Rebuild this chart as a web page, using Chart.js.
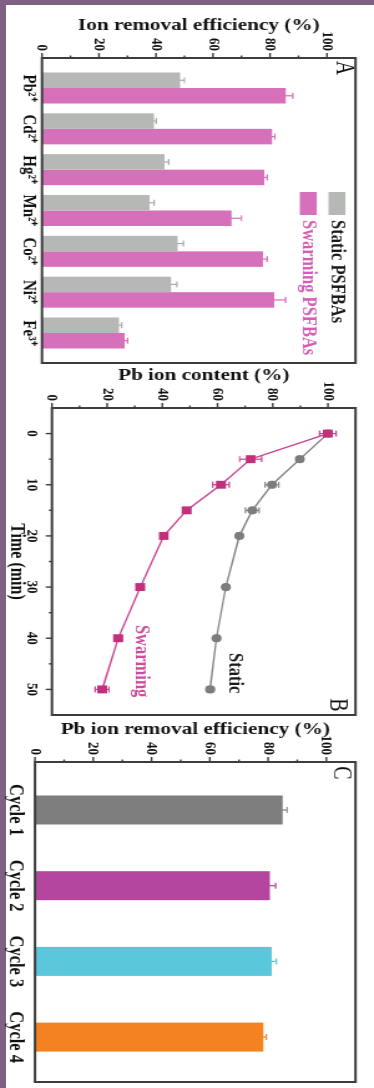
<!DOCTYPE html>
<html>
<head>
<meta charset="utf-8">
<title>Ion removal</title>
<script src="https://cdn.jsdelivr.net/npm/chart.js@4.4.1/dist/chart.umd.min.js"></script>
<style>
  html, body { margin: 0; padding: 0; }
  body { width: 374px; height: 1088px; background: #7f6184; position: relative; overflow: hidden; }
  #paper { position: absolute; left: 6px; top: 5px; width: 368px; height: 1083px; background: #fff; }
  /* the figure is drawn upright, then turned a quarter turn clockwise */
  #figure { position: absolute; left: 0; top: 0; width: 1088px; height: 300px;
    transform-origin: 0 0; transform: translate(374px, 0) rotate(90deg) scaleY(1.2467); }
  #figure canvas { position: absolute; top: 0; }
</style>
</head>
<body>
<div id="paper"></div>
<div id="figure">
  <canvas id="chartA" width="375" height="300" style="left:0"></canvas>
  <canvas id="chartB" width="375" height="300" style="left:350px"></canvas>
  <canvas id="chartC" width="384" height="300" style="left:704px"></canvas>
</div>
<script>
// Panel A - removal of different ions
const ions = ["Pb²⁺", "Cd²⁺", "Hg²⁺", "Mn²⁺", "Co²⁺", "Ni²⁺", "Fe³⁺"];
const staticRemoval = [48.5, 39.3, 43, 37.8, 47.6, 45.3, 27];
const staticRemovalErr = [1.5, 0.8, 1.5, 1.5, 2, 2, 1];
const swarmingRemoval = [85.5, 80.7, 78, 66.5, 77.5, 81.5, 29];
const swarmingRemovalErr = [2.5, 1, 1, 3.5, 1.5, 4, 1];

// Panel B - Pb content over time
const timeMin = [0, 5, 10, 15, 20, 30, 40, 50];
const swarmingContent = [100, 72, 61.2, 48.8, 40.5, 32, 24, 18.2];
const swarmingContentErr = [3, 4, 3, 1, 1, 1, 1.5, 2.5];
const staticContent = [100, 89.8, 79.7, 72.6, 67.9, 63, 59.6, 57.3];
const staticContentErr = [1, 1, 2.5, 2.5, 1, 1, 1, 1];

// Panel C - reuse cycles
const cycles = ["Cycle 1", "Cycle 2", "Cycle 3", "Cycle 4"];
const cycleRemoval = [85, 80.6, 81.3, 78.4];
const cycleRemovalErr = [1.5, 2, 1.5, 1];

// tick labels
const percentTicks = [0, 20, 40, 60, 80, 100];
const timeTicks = [0, 10, 20, 30, 40, 50];

const serif = "'Liberation Serif', 'Times New Roman', serif";
Chart.defaults.font.family = serif;
Chart.defaults.color = '#1a1a1a';

const setTicks = vals => s => { s.ticks = vals.map(v => ({ value: v })); };

function percentAxis(title, width) {
  return {
    type: 'linear', min: 0, max: 110,
    afterBuildTicks: setTicks(percentTicks),
    ticks: { padding: 7, autoSkip: false, font: { size: 13, weight: 'bold' }, color: '#111' },
    grid: { display: false, drawTicks: false },
    border: { display: false },
    title: { display: true, text: title, color: '#111',
      font: { size: 17, weight: 'bold' }, padding: { top: 15, bottom: 0 } },
    afterFit: s => { s.width = width; }
  };
}

// frame box round the plot, plus outward major / minor ticks
const framePlugin = {
  id: 'frame',
  afterDraw(chart, args, opts) {
    const { ctx, chartArea: a } = chart;
    ctx.save();
    ctx.strokeStyle = '#3d3d3d';
    ctx.lineWidth = 2;
    ctx.strokeRect(a.left, a.top, a.right - a.left, a.bottom - a.top);
    ctx.lineWidth = 1.4;
    (opts.tickAxes || []).forEach(id => {
      const s = chart.scales[id];
      const vals = s.ticks.map(t => t.value);
      const marks = [];
      vals.forEach((v, i) => {
        marks.push([v, 5]);
        if (i < vals.length - 1) marks.push([(v + vals[i + 1]) / 2, 2.5]);
      });
      marks.forEach(([v, len]) => {
        const p = s.getPixelForValue(v);
        ctx.beginPath();
        if (s.isHorizontal()) { ctx.moveTo(p, a.bottom); ctx.lineTo(p, a.bottom + len); }
        else { ctx.moveTo(a.left, p); ctx.lineTo(a.left - len, p); }
        ctx.stroke();
      });
    });
    if (opts.letter) {
      const l = opts.letter;
      ctx.fillStyle = '#111';
      ctx.font = "20px " + serif;
      ctx.textAlign = 'center';
      ctx.textBaseline = 'middle';
      const x = l.fromRight ? a.right - l.dx : a.left + l.dx;
      ctx.fillText(l.text, x, a.top + l.dy);
    }
    ctx.restore();
  }
};

const errorBarPlugin = {
  id: 'errorBars',
  beforeDatasetsDraw(chart) {
    const { ctx } = chart;
    const yScale = chart.scales.y;
    chart.data.datasets.forEach((ds, di) => {
      if (!ds.errors) return;
      const meta = chart.getDatasetMeta(di);
      ctx.save();
      ctx.lineWidth = 1.2;
      meta.data.forEach((el, i) => {
        const d = ds.data[i];
        const v = typeof d === 'object' ? d.y : d;
        const e = ds.errors[i];
        const top = yScale.getPixelForValue(v + e);
        const bot = yScale.getPixelForValue(v - e);
        const cap = 3;
        ctx.strokeStyle = Array.isArray(ds.errorColor) ? ds.errorColor[i] : ds.errorColor;
        ctx.beginPath();
        ctx.moveTo(el.x, bot); ctx.lineTo(el.x, top);
        ctx.moveTo(el.x - cap, top); ctx.lineTo(el.x + cap, top);
        ctx.moveTo(el.x - cap, bot); ctx.lineTo(el.x + cap, bot);
        ctx.stroke();
      });
      ctx.restore();
    });
  }
};

const legendPlugin = {
  id: 'boxLegend',
  afterDraw(chart, args, opts) {
    if (!opts.show) return;
    const { ctx, chartArea: a } = chart;
    ctx.save();
    ctx.font = "bold 16.5px " + serif;
    ctx.textBaseline = 'middle';
    ctx.textAlign = 'left';
    chart.data.datasets.forEach((ds, i) => {
      const x = a.left + opts.x, y = a.top + opts.y + i * opts.rowGap;
      ctx.fillStyle = ds.backgroundColor;
      ctx.fillRect(x, y - 6.8, 23, 13.6);
      ctx.fillStyle = ds.legendTextColor;
      ctx.fillText(ds.label, x + 28, y);
    });
    ctx.restore();
  }
};

const notePlugin = {
  id: 'notes',
  afterDraw(chart, args, opts) {
    if (!opts.items) return;
    const { ctx } = chart;
    ctx.save();
    ctx.font = "bold 16.5px " + serif;
    ctx.textBaseline = 'middle';
    ctx.textAlign = 'left';
    opts.items.forEach(n => {
      ctx.fillStyle = n.color;
      ctx.fillText(n.text, chart.scales.x.getPixelForValue(n.x), chart.scales.y.getPixelForValue(n.y));
    });
    ctx.restore();
  }
};

const common = { responsive: false, animation: false, devicePixelRatio: 1 };

// A
new Chart(document.getElementById('chartA'), {
  type: 'bar',
  data: {
    datasets: [
      { label: 'Static PSFBAs', data: staticRemoval.map((v, i) => ({ x: i, y: v })),
        backgroundColor: '#b5b8b5', errors: staticRemovalErr, errorColor: '#a9aca9',
        legendTextColor: '#1a1a1a', categoryPercentage: 0.76, barPercentage: 1 },
      { label: 'Swarming PSFBAs', data: swarmingRemoval.map((v, i) => ({ x: i, y: v })),
        backgroundColor: '#d670ba', errors: swarmingRemovalErr, errorColor: '#d670ba',
        legendTextColor: '#d45cb4', categoryPercentage: 0.76, barPercentage: 1 }
    ]
  },
  options: {
    ...common,
    layout: { padding: { left: 0, right: 12, top: 9.6, bottom: 0 } },
    plugins: {
      legend: { display: false }, tooltip: { enabled: false },
      frame: { tickAxes: ['y'], letter: { text: 'A', dx: 10, dy: 9.7 } },
      boxLegend: { show: true, x: 134, y: 14.9, rowGap: 23 }
    },
    scales: {
      x: { type: 'linear', min: -0.735, max: 6.735, offset: false,
        afterBuildTicks: setTicks(ions.map((n, i) => i)),
        ticks: { autoSkip: false, maxRotation: 0, padding: 2, font: { size: 15, weight: 'bold' }, color: '#111',
          callback: v => ions[v] },
        grid: { display: false, drawTicks: false }, border: { display: false },
        afterFit: s => { s.height = 33.7; } },
      y: percentAxis('Ion removal efficiency (%)', 58)
    }
  },
  plugins: [errorBarPlugin, framePlugin, legendPlugin]
});

// B
new Chart(document.getElementById('chartB'), {
  type: 'line',
  data: {
    datasets: [
      { label: 'Swarming', data: timeMin.map((t, i) => ({ x: t, y: swarmingContent[i] })),
        borderColor: '#c94490', backgroundColor: '#c2307c', pointBorderColor: '#c2307c',
        pointStyle: 'rect', pointRadius: 4.6, borderWidth: 1.4, tension: 0,
        errors: swarmingContentErr, errorColor: '#c94490' },
      { label: 'Static', data: timeMin.map((t, i) => ({ x: t, y: staticContent[i] })),
        borderColor: '#858585', backgroundColor: '#7d7d7d', pointBorderColor: '#7d7d7d',
        pointStyle: 'circle', pointRadius: 3.4, borderWidth: 1.4, tension: 0,
        errors: staticContentErr, errorColor: '#8a8a8a' }
    ]
  },
  options: {
    ...common,
    layout: { padding: { left: 0, right: 10, top: 9.6, bottom: 0 } },
    plugins: {
      legend: { display: false }, tooltip: { enabled: false },
      frame: { tickAxes: ['x', 'y'], letter: { text: 'B', fromRight: true, dx: 10, dy: 15.3 } },
      notes: { items: [
        { text: 'Swarming', color: '#cc4d9c', x: 37.4, y: 32.4 },
        { text: 'Static', color: '#1a1a1a', x: 42.9, y: 66.2 }
      ] }
    },
    scales: {
      x: { type: 'linear', min: -5, max: 55,
        afterBuildTicks: setTicks(timeTicks),
        ticks: { autoSkip: false, maxRotation: 0, padding: 9, font: { size: 13, weight: 'bold' }, color: '#111' },
        grid: { display: false, drawTicks: false }, border: { display: false },
        title: { display: true, text: 'Time (min)', color: '#111',
          font: { size: 16, weight: 'bold' }, padding: { top: 0, bottom: 4 } },
        afterFit: s => { s.height = 41.7; } },
      y: percentAxis('Pb ion content (%)', 58)
    }
  },
  plugins: [errorBarPlugin, framePlugin, notePlugin]
});

// C
const cycleColors = ['#7e7e7e', '#b5469f', '#5bc7dc', '#f58220'];
new Chart(document.getElementById('chartC'), {
  type: 'bar',
  data: {
    datasets: [
      { label: 'Pb', data: cycleRemoval.map((v, i) => ({ x: i, y: v })),
        backgroundColor: cycleColors, errors: cycleRemovalErr, errorColor: cycleColors,
        categoryPercentage: 1, barPercentage: 0.383 }
    ]
  },
  options: {
    ...common,
    layout: { padding: { left: 0, right: 6, top: 9.6, bottom: 0 } },
    plugins: {
      legend: { display: false }, tooltip: { enabled: false },
      frame: { tickAxes: ['y'], letter: { text: 'C', dx: 11, dy: 12 } }
    },
    scales: {
      x: { type: 'linear', min: -0.634, max: 3.593, offset: false,
        afterBuildTicks: setTicks(cycles.map((n, i) => i)),
        ticks: { autoSkip: false, maxRotation: 0, padding: 6, font: { size: 16.5, weight: 'bold' }, color: '#111',
          callback: v => cycles[v] },
        grid: { display: false, drawTicks: false }, border: { display: false },
        afterFit: s => { s.height = 28.1; } },
      y: percentAxis('Pb ion removal efficiency (%)', 58)
    }
  },
  plugins: [errorBarPlugin, framePlugin]
});
</script>
</body>
</html>
